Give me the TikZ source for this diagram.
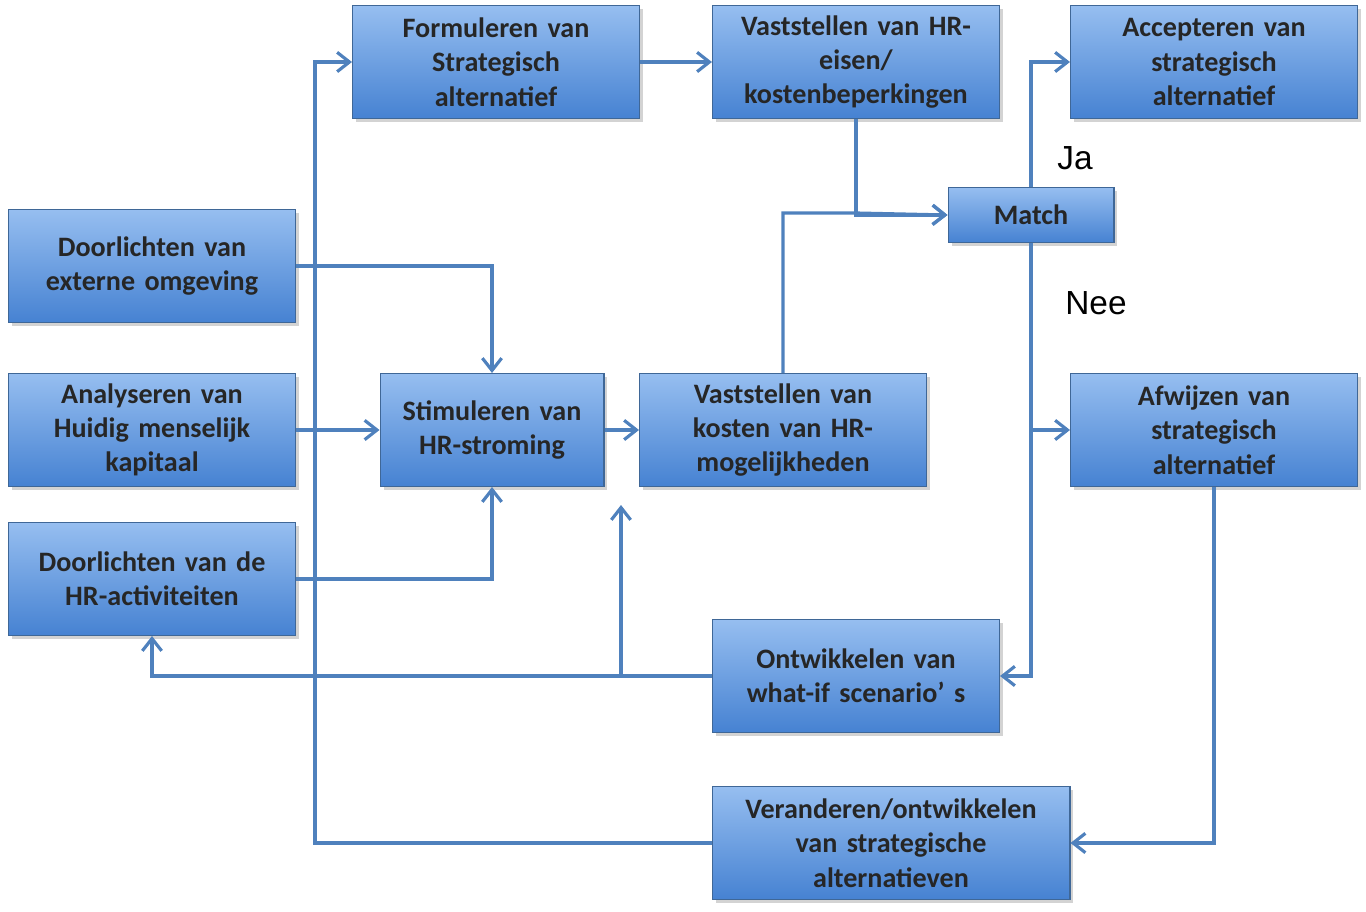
\documentclass[tikz,border=0pt]{standalone}
\usepackage{fontspec}
\setmainfont{Carlito}
\newfontfamily\lab{Liberation Sans}
\usetikzlibrary{shadows,arrows.meta}
\definecolor{ln}{RGB}{79,129,189}
\definecolor{bt}{RGB}{150,190,240}
\definecolor{bb}{RGB}{70,130,210}
\tikzset{
 box/.style={draw=ln!80!black,line width=0.6pt,top color=bt,bottom color=bb,
   drop shadow={shadow xshift=2pt,shadow yshift=-2pt,opacity=0.35},
   align=center,font=\fontsize{16}{19.5}\selectfont\bfseries,text=black!85,inner sep=2pt},
 conn/.style={draw=ln,line width=1.8pt,-{Straight Barb[length=7pt,width=11pt,line width=1.8pt]}},
 plain/.style={draw=ln,line width=1.8pt}
}
\newcommand{\bx}[7]{\node[box,minimum width=#3*0.02cm-0.6pt,minimum height=#4*0.02cm-0.6pt,text width=#5*0.02cm] (#1) at (#2) {#6};}
\begin{document}
\begin{tikzpicture}[x=0.02cm,y=-0.02cm]
\useasboundingbox (0,0) rectangle (1366,912);
\bx{form}{496,62}{288}{114}{270}{Formuleren van\\Strategisch\\alternatief}{}
\bx{eisen}{856,62}{288}{114}{280}{Vaststellen van HR-\\eisen/\\kostenbeperkingen}{}
\bx{acc}{1214,62}{288}{114}{270}{Accepteren van\\strategisch\\alternatief}{}
\bx{match}{1031,215}{167}{56}{150}{Match}{}
\bx{ext}{152,266}{288}{114}{270}{Doorlichten van\\externe omgeving}{}
\bx{ana}{152,430}{288}{114}{270}{Analyseren van\\Huidig menselijk\\kapitaal}{}
\bx{stim}{492,430}{225}{114}{215}{Stimuleren van\\HR-stroming}{}
\bx{kost}{783,430}{288}{114}{270}{Vaststellen van\\kosten van HR-\\mogelijkheden}{}
\bx{afw}{1214,430}{288}{114}{270}{Afwijzen van\\strategisch\\alternatief}{}
\bx{dhr}{152,579}{288}{114}{270}{Doorlichten van de\\HR-activiteiten}{}
\bx{ontw}{856,676}{288}{114}{270}{Ontwikkelen van\\what-if scenario’ s}{}
\bx{ver}{891,843}{359}{114}{340}{Veranderen/ontwikkelen\\van strategische\\alternatieven}{}
\node[font=\lab\fontsize{19}{22}\selectfont] (ja) at (1075,158) {Ja};
\node[font=\lab\fontsize{19}{22}\selectfont] (nee) at (1096,303) {Nee};
\coordinate (m1) at (856,213);
\coordinate (up) at (621,505);
\draw[conn] (form.east) -- (eisen.west);
\draw[conn] (eisen.south) |- (match.west);
\draw[conn] (kost.north) |- (m1) -- (match.west);
\draw[conn] (match.north) |- (acc.west);
\draw[conn] (match.south) |- (afw.west);
\draw[conn] (match.south) |- (ontw.east);
\draw[conn] (ext.east) -| (stim.north);
\draw[conn] (ana.east) -- (stim.west);
\draw[conn] (dhr.east) -| (stim.south);
\draw[conn] (stim.east) -- (kost.west);
\draw[conn] (ontw.west) -| (dhr.south);
\draw[conn] (ontw.west -| up) -- (up);
\draw[conn] (afw.south) |- (ver.east);
\draw[conn] (ver.west) -| (315,62) -- (form.west);
\end{tikzpicture}
\end{document}
